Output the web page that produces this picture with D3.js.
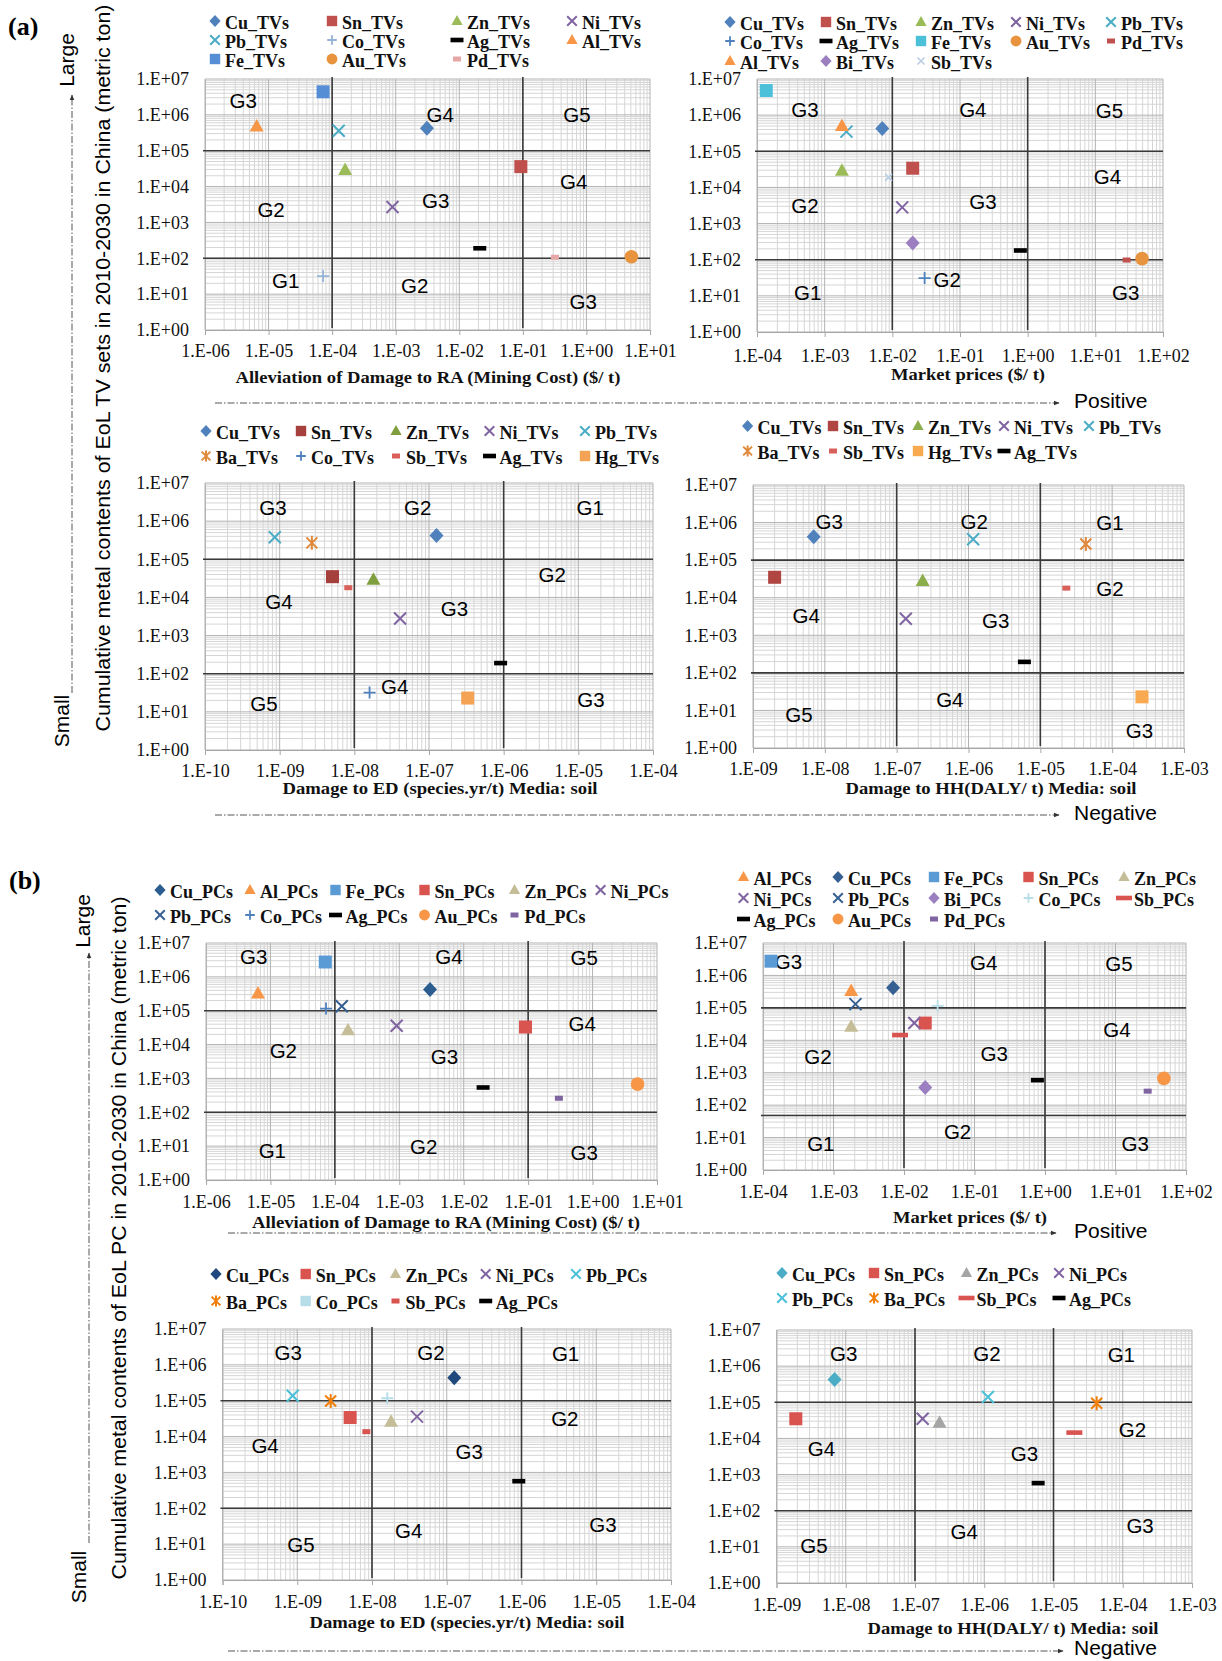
<!DOCTYPE html>
<html><head><meta charset="utf-8">
<script src="https://cdn.jsdelivr.net/npm/d3@7"></script>
<style>body{margin:0;background:#fff}svg{display:block}</style>
</head><body>
<svg id="fig" width="1222" height="1661"></svg>
<script>
// ---------- tick labels ----------
const yTickLabels = ["1.E+00","1.E+01","1.E+02","1.E+03","1.E+04","1.E+05","1.E+06","1.E+07"];
const raTickLabels = ["1.E-06","1.E-05","1.E-04","1.E-03","1.E-02","1.E-01","1.E+00","1.E+01"];
const priceTickLabels = ["1.E-04","1.E-03","1.E-02","1.E-01","1.E+00","1.E+01","1.E+02"];
const edTickLabels = ["1.E-10","1.E-09","1.E-08","1.E-07","1.E-06","1.E-05","1.E-04"];
const hhTickLabels = ["1.E-09","1.E-08","1.E-07","1.E-06","1.E-05","1.E-04","1.E-03"];

// ---------- (a) TV sets: mining cost ----------
const a1Names = ["Cu_TVs","Sn_TVs","Zn_TVs","Ni_TVs","Pb_TVs","Co_TVs","Ag_TVs","Al_TVs","Fe_TVs","Au_TVs","Pd_TVs"];
const a1X = [3.1e-3, 9.3e-2, 1.6e-4, 8.9e-4, 1.27e-4, 7.2e-5, 2.1e-2, 6.5e-6, 7.2e-5, 5.1, 0.32];
const a1Y = [4.2e5, 3.6e4, 2.9e4, 2.7e3, 3.6e5, 32, 190, 4.7e5, 4.4e6, 110, 107];
const a1Marks = ["diamond","square","triangle","x","x","plus","dash","triangle","square","circle","sdash"];
const a1Colors = ["#4f81bd","#c0504d","#9bbb59","#8064a2","#4bacc6","#95b3d7","#000","#f79646","#558ed5","#e8943f","#e6a6a5"];
const a1Groups = ["G3","G4","G5","G4","G2","G3","G1","G2","G3"];
const a1GroupLogX = [-5.40,-2.30,-0.15,-0.20,-4.96,-2.37,-4.73,-2.70,-0.05];
const a1GroupLogY = [6.41,6.00,6.00,4.13,3.37,3.60,1.39,1.25,0.78];

// ---------- (a) TV sets: market prices ----------
const a2Names = ["Cu_TVs","Sn_TVs","Zn_TVs","Ni_TVs","Pb_TVs","Co_TVs","Ag_TVs","Fe_TVs","Au_TVs","Pd_TVs","Al_TVs","Bi_TVs","Sb_TVs"];
const a2X = [7.1e-3, 2.0e-2, 1.8e-3, 1.4e-2, 2.1e-3, 3.0e-2, 0.78, 1.37e-4, 49, 29, 1.8e-3, 2.0e-2, 8.8e-3];
const a2Y = [4.3e5, 3.4e4, 2.9e4, 2.8e3, 3.5e5, 31, 180, 4.8e6, 107, 98, 5.0e5, 290, 1.9e4];
const a2Marks = ["diamond","square","triangle","x","x","plus","dash","square","circle","sdash","triangle","diamond","sx"];
const a2Colors = ["#4f81bd","#c0504d","#9bbb59","#8064a2","#4bacc6","#4f81bd","#000","#4bc0d8","#e8943f","#c0504d","#f79646","#9b7fc0","#b9cde5"];
const a2Groups = ["G3","G4","G5","G4","G2","G3","G2","G1","G3"];
const a2GroupLogX = [-3.29,-0.81,1.21,1.18,-3.29,-0.66,-1.19,-3.25,1.45];
const a2GroupLogY = [6.14,6.14,6.12,4.29,3.51,3.60,1.44,1.08,1.08];

// ---------- (a) TV sets: ecosystem damage ----------
const a3Names = ["Cu_TVs","Sn_TVs","Zn_TVs","Ni_TVs","Pb_TVs","Ba_TVs","Co_TVs","Sb_TVs","Ag_TVs","Hg_TVs"];
const a3X = [1.26e-7, 5.1e-9, 1.8e-8, 4.1e-8, 8.6e-10, 2.7e-9, 1.6e-8, 8.3e-9, 9.1e-7, 3.3e-7];
const a3Y = [4.2e5, 3.5e4, 2.9e4, 2.8e3, 3.8e5, 2.7e5, 32, 1.8e4, 190, 23];
const a3Marks = ["diamond","square","triangle","x","x","star","plus","sdash","dash","square"];
const a3Colors = ["#4f81bd","#a5403d","#7f9f3f","#8064a2","#4bacc6","#e0893a","#4f81bd","#d9605a","#000","#f4a354"];
const a3Groups = ["G3","G2","G1","G2","G4","G3","G4","G5","G3"];
const a3GroupLogX = [-9.09,-7.15,-4.84,-5.35,-9.01,-6.66,-7.46,-9.21,-4.83];
const a3GroupLogY = [6.35,6.35,6.35,4.59,3.88,3.70,1.65,1.21,1.31];

// ---------- (a) TV sets: human health damage ----------
const a4Names = ["Cu_TVs","Sn_TVs","Zn_TVs","Ni_TVs","Pb_TVs","Ba_TVs","Sb_TVs","Hg_TVs","Ag_TVs"];
const a4X = [7.0e-9, 2.0e-9, 2.3e-7, 1.34e-7, 1.16e-6, 4.3e-5, 2.3e-5, 2.6e-4, 6.0e-6];
const a4Y = [4.2e5, 3.5e4, 2.8e4, 2.75e3, 3.6e5, 2.7e5, 1.8e4, 23, 196];
const a4Marks = ["diamond","square","triangle","x","x","star","sdash","square","dash"];
const a4Colors = ["#4f81bd","#b04542","#8cad4b","#8064a2","#4bacc6","#e0893a","#d9605a","#f9a94f","#000"];
const a4Groups = ["G3","G2","G1","G2","G4","G3","G4","G5","G3"];
const a4GroupLogX = [-7.94,-5.92,-4.03,-4.03,-8.26,-5.62,-6.26,-8.36,-3.62];
const a4GroupLogY = [6.03,6.03,6.01,4.25,3.52,3.38,1.28,0.90,0.47];

// ---------- (b) PCs: mining cost ----------
const b1Names = ["Cu_PCs","Al_PCs","Fe_PCs","Sn_PCs","Zn_PCs","Ni_PCs","Pb_PCs","Co_PCs","Ag_PCs","Au_PCs","Pd_PCs"];
const b1X = [3.0e-3, 6.4e-6, 7.1e-5, 9.1e-2, 1.6e-4, 9.1e-4, 1.28e-4, 7.3e-5, 2.0e-2, 5.0, 0.30];
const b1Y = [4.2e5, 3.2e5, 2.75e6, 3.3e4, 2.65e4, 3.6e4, 1.35e5, 1.16e5, 540, 680, 260];
const b1Marks = ["diamond","triangle","square","square","triangle","x","x","plus","dash","circle","sdash"];
const b1Colors = ["#2c5d8f","#f79646","#5b9bd5","#d9534f","#c4bd97","#8064a2","#376092","#4f81bd","#000","#f79646","#8064a2"];
const b1Groups = ["G3","G4","G5","G4","G2","G3","G1","G2","G3"];
const b1GroupLogX = [-5.26,-2.23,-0.13,-0.16,-4.80,-2.30,-4.97,-2.62,-0.13];
const b1GroupLogY = [6.59,6.59,6.56,4.62,3.83,3.64,0.88,1.00,0.81];

// ---------- (b) PCs: market prices ----------
const b2Names = ["Al_PCs","Cu_PCs","Fe_PCs","Sn_PCs","Zn_PCs","Ni_PCs","Pb_PCs","Bi_PCs","Co_PCs","Sb_PCs","Ag_PCs","Au_PCs","Pd_PCs"];
const b2X = [1.78e-3, 7.0e-3, 1.3e-4, 2.0e-2, 1.78e-3, 1.4e-2, 2.05e-3, 2.0e-2, 3.0e-2, 8.8e-3, 0.78, 48.5, 28.6];
const b2Y = [3.3e5, 4.2e5, 2.75e6, 3.4e4, 2.6e4, 3.4e4, 1.3e5, 350, 1.15e5, 1.45e4, 590, 670, 270];
const b2Marks = ["triangle","diamond","square","square","triangle","x","x","diamond","plus","wdash","dash","circle","sdash"];
const b2Colors = ["#f79646","#376092","#5b9bd5","#d9534f","#c4bd97","#8064a2","#376092","#9b7fc0","#b7dee8","#d9534f","#000","#f79646","#8064a2"];
const b2Groups = ["G3","G4","G5","G4","G2","G3","G2","G1","G3"];
const b2GroupLogX = [-3.64,-0.87,1.05,1.02,-3.22,-0.72,-1.24,-3.18,1.28];
const b2GroupLogY = [6.42,6.39,6.37,4.33,3.49,3.60,1.18,0.82,0.82];

// ---------- (b) PCs: ecosystem damage ----------
const b3Names = ["Cu_PCs","Sn_PCs","Zn_PCs","Ni_PCs","Pb_PCs","Ba_PCs","Co_PCs","Sb_PCs","Ag_PCs"];
const b3X = [1.26e-7, 5.1e-9, 1.8e-8, 4.0e-8, 8.7e-10, 2.8e-9, 1.6e-8, 8.4e-9, 9.2e-7];
const b3Y = [4.4e5, 3.4e4, 2.6e4, 3.6e4, 1.38e5, 9.8e4, 1.17e5, 1.37e4, 570];
const b3Marks = ["diamond","square","triangle","x","x","star","plus","sdash","dash"];
const b3LegendMarks = ["diamond","square","triangle","x","x","star","square","sdash","dash"];
const b3Colors = ["#1f497d","#d9534f","#c4bd97","#8064a2","#4bc0d8","#f07f09","#b7dee8","#d9534f","#000"];
const b3Groups = ["G3","G2","G1","G2","G4","G3","G3","G4","G5"];
const b3GroupLogX = [-9.12,-7.21,-5.41,-5.42,-9.43,-6.70,-4.91,-7.51,-8.95];
const b3GroupLogY = [6.34,6.34,6.32,4.51,3.74,3.58,1.55,1.39,1.00];

// ---------- (b) PCs: human health damage ----------
const b4Names = ["Cu_PCs","Sn_PCs","Zn_PCs","Ni_PCs","Pb_PCs","Ba_PCs","Sb_PCs","Ag_PCs"];
const b4X = [6.9e-9, 1.9e-9, 2.26e-7, 1.29e-7, 1.13e-6, 4.2e-5, 2.0e-5, 6.0e-6];
const b4Y = [4.3e5, 3.5e4, 2.7e4, 3.5e4, 1.4e5, 9.4e4, 1.45e4, 580];
const b4Marks = ["diamond","square","triangle","x","x","star","wdash","dash"];
const b4Colors = ["#4bacc6","#d9534f","#a5a5a5","#8064a2","#4bc0d8","#f07f09","#d9534f","#000"];
const b4Groups = ["G3","G2","G1","G2","G4","G3","G3","G4","G5"];
const b4GroupLogX = [-8.03,-5.96,-4.02,-3.86,-8.35,-5.42,-3.75,-6.29,-8.46];
const b4GroupLogY = [6.34,6.34,6.31,4.24,3.73,3.59,1.58,1.43,1.03];

// group boundaries
const raBounds = [1e-4, 1e-1];
const priceBounds = [1e-2, 1];
const edBounds = [1e-8, 1e-6];
const hhBounds = [1e-7, 1e-5];
const qtyBounds = [1e5, 1e2];
const qtyBoundsPricePC = [1e5, 48];

// ---------- layout ----------
const SERIF = '"Liberation Serif","Times New Roman",serif';
const SANS = '"Liberation Sans",Arial,sans-serif';

const panels = [
  {left:205, right:650, top:79, bottom:330, xTicks:raTickLabels, names:a1Names, xs:a1X, ys:a1Y, marks:a1Marks, colors:a1Colors,
   groups:a1Groups, gx:a1GroupLogX, gy:a1GroupLogY, vb:raBounds, hb:qtyBounds,
   legCols:[215,332,457,572], legRows:[29,48,67], labelDy:21,
   title:"Alleviation of Damage to RA (Mining Cost) ($/ t)", titleX:428, titleY:377, titleLen:385},
  {left:757, right:1163, top:79, bottom:332, xTicks:priceTickLabels, names:a2Names, xs:a2X, ys:a2Y, marks:a2Marks, colors:a2Colors,
   groups:a2Groups, gx:a2GroupLogX, gy:a2GroupLogY, vb:priceBounds, hb:qtyBounds,
   legCols:[730,826,921,1016,1111], legRows:[30,49,69], labelDy:24,
   title:"Market prices ($/ t)", titleX:968, titleY:374, titleLen:154},
  {left:205, right:653, top:483, bottom:750, xTicks:edTickLabels, names:a3Names, xs:a3X, ys:a3Y, marks:a3Marks, colors:a3Colors,
   groups:a3Groups, gx:a3GroupLogX, gy:a3GroupLogY, vb:edBounds, hb:qtyBounds,
   legCols:[206,301,396,489.5,585], legRows:[439,464], labelDy:21,
   title:"Damage to ED (species.yr/t) Media: soil", titleX:440, titleY:788, titleLen:315},
  {left:753, right:1184, top:485, bottom:748, xTicks:hhTickLabels, names:a4Names, xs:a4X, ys:a4Y, marks:a4Marks, colors:a4Colors,
   groups:a4Groups, gx:a4GroupLogX, gy:a4GroupLogY, vb:hhBounds, hb:qtyBounds,
   legCols:[747.6,833,918,1004,1089], legRows:[434,459], labelDy:21,
   title:"Damage to HH(DALY/ t) Media: soil", titleX:991, titleY:788, titleLen:291},
  {left:206, right:657, top:943, bottom:1180, xTicks:raTickLabels, names:b1Names, xs:b1X, ys:b1Y, marks:b1Marks, colors:b1Colors,
   groups:b1Groups, gx:b1GroupLogX, gy:b1GroupLogY, vb:raBounds, hb:qtyBounds,
   legCols:[160,250,335.5,424.5,514.5,600.6], legRows:[898,923], labelDy:22,
   title:"Alleviation of Damage to RA (Mining Cost) ($/ t)", titleX:446, titleY:1222, titleLen:388},
  {left:763, right:1186, top:943, bottom:1170, xTicks:priceTickLabels, names:b2Names, xs:b2X, ys:b2Y, marks:b2Marks, colors:b2Colors,
   groups:b2Groups, gx:b2GroupLogX, gy:b2GroupLogY, vb:priceBounds, hb:qtyBoundsPricePC,
   legCols:[743.5,838,934,1028.5,1124], legRows:[885,906,927], labelDy:22,
   title:"Market prices ($/ t)", titleX:970, titleY:1217, titleLen:154},
  {left:222.5, right:671, top:1329, bottom:1580, xTicks:edTickLabels, names:b3Names, xs:b3X, ys:b3Y, marks:b3Marks, legMarks:b3LegendMarks, colors:b3Colors,
   groups:b3Groups, gx:b3GroupLogX, gy:b3GroupLogY, vb:edBounds, hb:qtyBounds,
   legCols:[216,305.7,395.5,485.7,576], legRows:[1282,1309], labelDy:22,
   title:"Damage to ED (species.yr/t) Media: soil", titleX:467, titleY:1622, titleLen:315},
  {left:776.5, right:1192, top:1330, bottom:1583, xTicks:hhTickLabels, names:b4Names, xs:b4X, ys:b4Y, marks:b4Marks, colors:b4Colors,
   groups:b4Groups, gx:b4GroupLogX, gy:b4GroupLogY, vb:hhBounds, hb:qtyBounds,
   legCols:[782,874,966.5,1059], legRows:[1281,1306], labelDy:22,
   title:"Damage to HH(DALY/ t) Media: soil", titleX:1013, titleY:1628, titleLen:291}
];

const svg = d3.select("#fig");
const defs = svg.append("defs");
defs.append("marker").attr("id","arrowhead").attr("viewBox","0 0 10 10").attr("refX",9).attr("refY",5)
  .attr("markerWidth",6).attr("markerHeight",6).attr("orient","auto-start-reverse")
  .append("path").attr("d","M0,1L10,5L0,9Z").attr("fill","#333");

// Draws one marker shape centred on the origin of group g
function drawMarker(g, type, color, s) {
  switch (type) {
    case "diamond":
      g.append("path").attr("d", `M0,${-7.5*s}L${7*s},0L0,${7.5*s}L${-7*s},0Z`).attr("fill", color); break;
    case "square":
      g.append("rect").attr("x",-6.5*s).attr("y",-6.5*s).attr("width",13*s).attr("height",13*s).attr("fill",color); break;
    case "triangle":
      g.append("path").attr("d", `M0,${-7.5*s}L${7*s},${5*s}L${-7*s},${5*s}Z`).attr("fill", color); break;
    case "circle":
      g.append("circle").attr("r", 6.8*s).attr("fill", color); break;
    case "x":
      g.append("path").attr("d", `M${-6*s},${-6*s}L${6*s},${6*s}M${-6*s},${6*s}L${6*s},${-6*s}`)
        .attr("stroke", color).attr("stroke-width", 2).attr("fill","none"); break;
    case "sx":
      g.append("path").attr("d", `M-3.5,-3.5L3.5,3.5M-3.5,3.5L3.5,-3.5`)
        .attr("stroke", color).attr("stroke-width", 1.6).attr("fill","none"); break;
    case "plus":
      g.append("path").attr("d", `M${-6*s},0H${6*s}M0,${-6*s}V${6*s}`)
        .attr("stroke", color).attr("stroke-width", 1.8).attr("fill","none"); break;
    case "star":
      // asterisk: a cross with a vertical stroke through its centre
      g.append("path").attr("d", `M${-5.5*s},${-5.5*s}L${5.5*s},${5.5*s}M${-5.5*s},${5.5*s}L${5.5*s},${-5.5*s}M0,${-7*s}V${7*s}`)
        .attr("stroke", color).attr("stroke-width", 2).attr("fill","none"); break;
    case "dash":
      g.append("rect").attr("x",-6.5).attr("y",-2.3).attr("width",13).attr("height",4.6).attr("fill",color); break;
    case "sdash":
      g.append("rect").attr("x",-4).attr("y",-2.5).attr("width",8).attr("height",5).attr("fill",color); break;
    case "wdash":
      g.append("rect").attr("x",-8).attr("y",-2.3).attr("width",16).attr("height",4.6).attr("fill",color); break;
  }
}

panels.forEach(p => {
  const x = d3.scaleLog().domain([Number(p.xTicks[0]), Number(p.xTicks[p.xTicks.length - 1])]).range([p.left, p.right]);
  const y = d3.scaleLog().domain([Number(yTickLabels[0]), Number(yTickLabels[yTickLabels.length - 1])]).range([p.bottom, p.top]);
  const g = svg.append("g");

  // log grid: minor lines first, decade lines on top
  const gridVals = sc => {
    const [lo, hi] = sc.domain().map(v => Math.round(Math.log10(v)));
    const out = [];
    for (let d = lo; d < hi; d++) for (let k = 1; k <= 9; k++) out.push({v: k * Math.pow(10, d), major: k === 1});
    out.push({v: Math.pow(10, hi), major: true});
    return out;
  };
  const grid = g.append("g");
  const xs = gridVals(x), ys = gridVals(y);
  [false, true].forEach(maj => {
    grid.selectAll(null).data(xs.filter(d => d.major === maj)).join("line")
      .attr("x1", d => x(d.v)).attr("x2", d => x(d.v)).attr("y1", p.top).attr("y2", p.bottom)
      .attr("stroke", maj ? "#b3b3b3" : "#d6d6d6").attr("stroke-width", 1);
    grid.selectAll(null).data(ys.filter(d => d.major === maj)).join("line")
      .attr("y1", d => y(d.v)).attr("y2", d => y(d.v)).attr("x1", p.left).attr("x2", p.right)
      .attr("stroke", maj ? "#b3b3b3" : "#d6d6d6").attr("stroke-width", 1);
  });

  // axes
  const xAxis = g.append("g").attr("transform", `translate(0,${p.bottom})`)
    .call(d3.axisBottom(x).tickValues(p.xTicks.map(Number)).tickFormat((d, i) => p.xTicks[i]).tickSize(5));
  xAxis.select(".domain").attr("stroke", "#a6a6a6");
  xAxis.selectAll(".tick line").attr("stroke", "#a6a6a6");
  xAxis.selectAll("text").attr("y", p.labelDy).attr("dy", "0.35em")
    .attr("font-family", SERIF).attr("font-size", 18).attr("fill", "#111");

  const yAxis = g.append("g").attr("transform", `translate(${p.left},0)`)
    .call(d3.axisLeft(y).tickValues(yTickLabels.map(Number)).tickFormat((d, i) => yTickLabels[i]).tickSize(0).tickPadding(16));
  yAxis.select(".domain").attr("stroke", "#b3b3b3");
  yAxis.selectAll("text").attr("font-family", SERIF).attr("font-size", 18).attr("fill", "#111");

  // group boundaries
  g.selectAll(null).data(p.vb).join("line")
    .attr("x1", d => x(d)).attr("x2", d => x(d)).attr("y1", p.top - 2).attr("y2", p.bottom - 2)
    .attr("stroke", "#3a3a3a").attr("stroke-width", 1.6);
  g.selectAll(null).data(p.hb).join("line")
    .attr("y1", d => y(d)).attr("y2", d => y(d)).attr("x1", p.left - 2).attr("x2", p.right)
    .attr("stroke", "#3a3a3a").attr("stroke-width", 1.6);

  // group labels
  g.selectAll(null).data(p.groups).join("text")
    .attr("x", (d, i) => x(Math.pow(10, p.gx[i]))).attr("y", (d, i) => y(Math.pow(10, p.gy[i])))
    .attr("dy", "0.36em").attr("text-anchor", "middle")
    .attr("font-family", SANS).attr("font-size", 20.5).attr("fill", "#000").text(d => d);

  // points
  p.names.forEach((n, i) => {
    const m = g.append("g").attr("transform", `translate(${x(p.xs[i])},${y(p.ys[i])})`);
    drawMarker(m, p.marks[i], p.colors[i], 1);
  });

  // legend
  const nc = p.legCols.length;
  p.names.forEach((n, i) => {
    const cx = p.legCols[i % nc], by = p.legRows[Math.floor(i / nc)];
    const m = g.append("g").attr("transform", `translate(${cx},${by - 8})`);
    drawMarker(m, (p.legMarks || p.marks)[i], p.colors[i], 0.8);
    g.append("text").attr("x", cx + 10).attr("y", by)
      .attr("font-family", SERIF).attr("font-weight", "bold").attr("font-size", 18).attr("fill", "#111").text(n);
  });

  // x title
  g.append("text").attr("x", p.titleX).attr("y", p.titleY).attr("dy", "0.35em").attr("text-anchor", "middle")
    .attr("font-family", SERIF).attr("font-weight", "bold").attr("font-size", 17.5)
    .attr("textLength", p.titleLen).attr("lengthAdjust", "spacingAndGlyphs").attr("fill", "#111").text(p.title);
});

// ---------- figure-level annotations ----------
const ann = svg.append("g");
const dashStyle = sel => sel.attr("stroke", "#555").attr("stroke-width", 1).attr("stroke-dasharray", "7,2,1.5,2").attr("fill", "none");

// panel letters
ann.append("text").attr("x", 8).attr("y", 35).attr("font-family", SERIF).attr("font-weight", "bold").attr("font-size", 26).text("(a)");
ann.append("text").attr("x", 9).attr("y", 889).attr("font-family", SERIF).attr("font-weight", "bold").attr("font-size", 26).text("(b)");

// vertical quantity arrows
[{x: 72, y1: 693, y2: 95, lx: 67, ly: 60, sx: 62, sy: 721},
 {x: 89, y1: 1543, y2: 953, lx: 83, ly: 921, sx: 79, sy: 1577}].forEach(a => {
  dashStyle(ann.append("line").attr("x1", a.x).attr("x2", a.x).attr("y1", a.y1).attr("y2", a.y2)).attr("marker-end", "url(#arrowhead)");
  ann.append("text").attr("transform", `translate(${a.lx},${a.ly}) rotate(-90)`).attr("text-anchor", "middle").attr("dy", "0.35em")
    .attr("font-family", SANS).attr("font-size", 21).text("Large");
  ann.append("text").attr("transform", `translate(${a.sx},${a.sy}) rotate(-90)`).attr("text-anchor", "middle").attr("dy", "0.35em")
    .attr("font-family", SANS).attr("font-size", 21).text("Small");
});

// y-axis titles
[{x: 103, y: 368, len: 727, t: "Cumulative metal contents of EoL TV sets in 2010-2030 in China (metric ton)"},
 {x: 119, y: 1238, len: 683, t: "Cumulative metal contents of EoL PC in 2010-2030 in China (metric ton)"}].forEach(a => {
  ann.append("text").attr("transform", `translate(${a.x},${a.y}) rotate(-90)`).attr("text-anchor", "middle").attr("dy", "0.35em")
    .attr("font-family", SANS).attr("font-size", 21).attr("textLength", a.len).attr("lengthAdjust", "spacingAndGlyphs").text(a.t);
});

// horizontal direction arrows
[{y: 403, x1: 215, x2: 1059, t: "Positive", ty: 401},
 {y: 815, x1: 215, x2: 1059, t: "Negative", ty: 813},
 {y: 1233, x1: 228, x2: 1056, t: "Positive", ty: 1231},
 {y: 1651, x1: 228, x2: 1063, t: "Negative", ty: 1648}].forEach(a => {
  dashStyle(ann.append("line").attr("x1", a.x1).attr("x2", a.x2).attr("y1", a.y).attr("y2", a.y)).attr("marker-end", "url(#arrowhead)");
  ann.append("text").attr("x", 1074).attr("y", a.ty).attr("dy", "0.35em")
    .attr("font-family", SANS).attr("font-size", 21).text(a.t);
});
</script>
</body></html>
